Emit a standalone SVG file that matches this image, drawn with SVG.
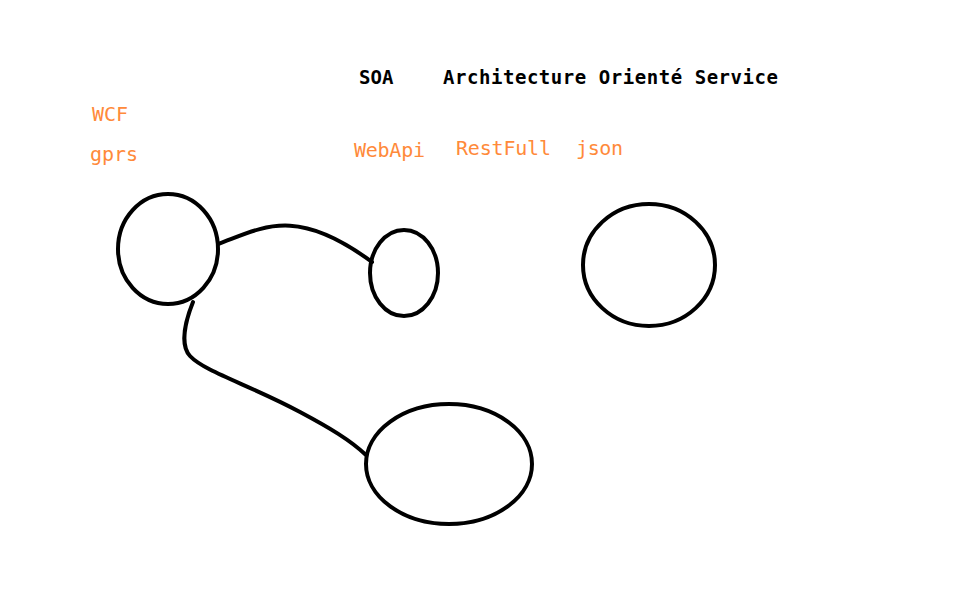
<svg xmlns="http://www.w3.org/2000/svg" width="974" height="591" viewBox="0 0 974 591">
<style>
.n{fill:none;stroke:#000;stroke-width:4}
.c{fill:none;stroke:#000;stroke-width:4;stroke-linecap:round}
.t{font-family:"DejaVu Sans Mono","Liberation Mono",monospace;font-size:19px;font-weight:bold}
.k{fill:#000}
.o{fill:#ff8a3a;font-weight:normal;font-size:20px}
</style>
<rect width="974" height="591" fill="#fff"/>
<g id="labels">
<text class="t k" x="359" y="84">SOA</text>
<text class="t k" x="443" y="84" textLength="335">Architecture Orienté Service</text>
<text class="t o" x="92" y="121">WCF</text>
<text class="t o" x="90" y="161">gprs</text>
<text class="t o" x="354" y="157" textLength="71">WebApi</text>
<text class="t o" x="456" y="155" textLength="95">RestFull</text>
<text class="t o" x="576" y="155" textLength="47">json</text>
</g>
<g id="connectors">
<path class="c" d="M218,244 C 262,228 295,205 372,262"/>
<path class="c" d="M193,302 C 185,322 180,345 190,356 C 205,372 250,385 300,412 C 330,428 350,440 366,455"/>
</g>
<g id="node1"><ellipse class="n" cx="168" cy="249" rx="50" ry="55"/></g>
<g id="node2"><ellipse class="n" cx="404" cy="273" rx="34" ry="43"/></g>
<g id="node3"><ellipse class="n" cx="649" cy="265" rx="66" ry="61"/></g>
<g id="node4"><ellipse class="n" cx="449" cy="464" rx="83" ry="60"/></g>
</svg>
